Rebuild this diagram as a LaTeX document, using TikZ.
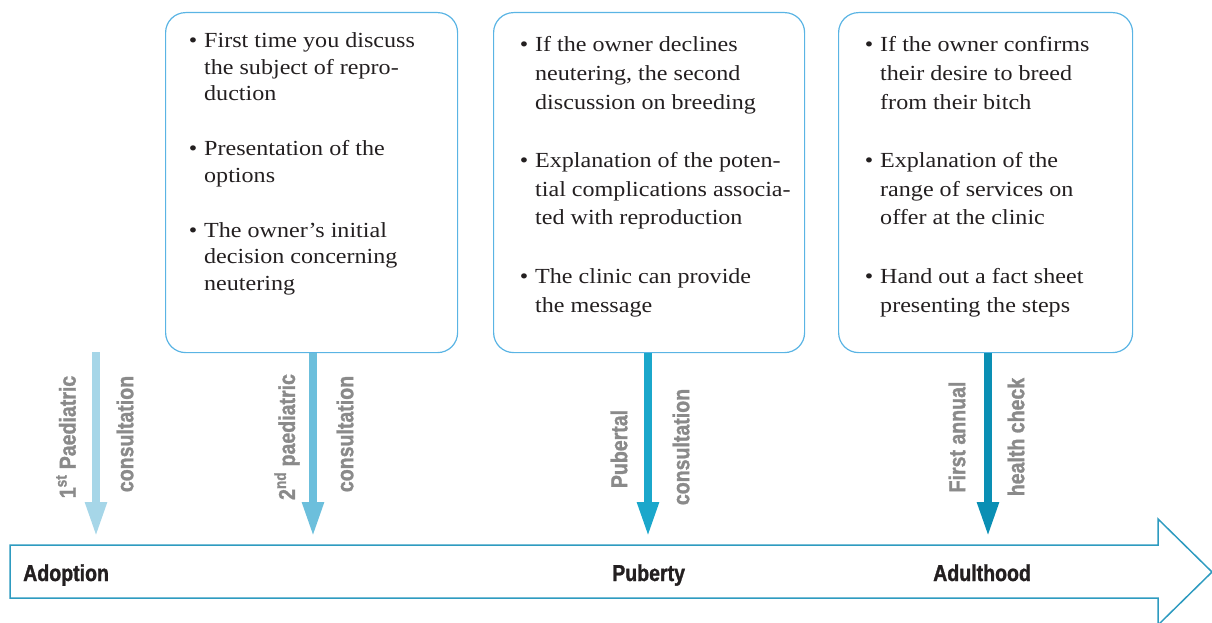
\documentclass[tikz,border=0pt]{standalone}
\usepackage{fontspec}
\setmainfont{Liberation Serif}[FakeStretch=1.12]
\newfontfamily\condfont{Liberation Sans}[FakeStretch=0.85, BoldFeatures={FakeBold=1.3}]
\usetikzlibrary{arrows.meta}
\definecolor{boxline}{HTML}{5AB4E4}
\definecolor{txt}{HTML}{231F20}
\definecolor{lbl}{HTML}{8A8A8A}
\definecolor{cA}{HTML}{A6D6E8}
\definecolor{cB}{HTML}{6CBFDC}
\definecolor{cC}{HTML}{1BA7CB}
\definecolor{cD}{HTML}{0A8FB4}
\definecolor{bigline}{HTML}{2E9BC0}
\tikzset{
  infobox/.style={draw=boxline, line width=1.2pt, rounded corners=20pt, anchor=north west, inner sep=0pt},
  bullettext/.style={anchor=base west, align=left, inner sep=0pt, text=txt},
  visit/.style={line width=8pt, -{Triangle[width=20pt,length=35pt]}},
  vlabel/.style={rotate=90, inner sep=0pt, text=lbl, font=\condfont\bfseries\fontsize{23}{25}\selectfont},
  stage/.style={anchor=base west, inner sep=0pt, text=txt, font=\condfont\bfseries\fontsize{23}{26}\selectfont},
  bigarrow/.style={draw=bigline, line width=1.5pt, line join=miter}
}
\newcommand{\bul}{\llap{\textbullet\hspace{7pt}}}
\begin{document}
\begin{tikzpicture}[x=1pt,y=-1pt]
\useasboundingbox (0,0) rectangle (1212,623);
% timeline arrow
\draw[bigarrow] (10,545) -- (1158,545) -- (1158,519) -- (1212,572) -- (1158,625) -- (1158,598) -- (10,598) -- cycle;
\node[stage] (adopt) at (23,581) {Adoption};
\node[stage] (pub) at (612,581) {Puberty};
\node[stage] (adult) at (933,581) {Adulthood};
% boxes
\node[infobox, minimum width=292pt, minimum height=340pt] (b1) at (165,12) {};
\node[infobox, minimum width=311pt, minimum height=340pt] (b2) at (493,12) {};
\node[infobox, minimum width=294pt, minimum height=340pt] (b3) at (838,12) {};
\node[bullettext, font=\fontsize{21.5}{26.3}\selectfont] (t1) at (204,290)
 {\bul First time you discuss\\the subject of repro-\\duction\\[29pt]
  \bul Presentation of the\\options\\[29pt]
  \bul The owner’s initial\\decision concerning\\neutering};
\node[bullettext, font=\fontsize{21.5}{28.6}\selectfont] (t2) at (535,312)
 {\bul If the owner declines\\neutering, the second\\discussion on breeding\\[30pt]
  \bul Explanation of the poten-\\tial complications associa-\\ted with reproduction\\[30pt]
  \bul The clinic can provide\\the message};
\node[bullettext, font=\fontsize{21.5}{28.6}\selectfont] (t3) at (880,312)
 {\bul If the owner confirms\\their desire to breed\\from their bitch\\[30pt]
  \bul Explanation of the\\range of services on\\offer at the clinic\\[30pt]
  \bul Hand out a fact sheet\\presenting the steps};
% visit arrows
\coordinate (s1) at (96,352);
\coordinate (e1) at (96,537);
\coordinate (e2) at (313,537);
\coordinate (e3) at (648,537);
\coordinate (e4) at (988,537);
\draw[visit, cA] (s1) -- (e1);
\draw[visit, cB] (b1.south -| e2) -- (e2);
\draw[visit, cC] (b2.south -| e3) -- (e3);
\draw[visit, cD] (b3.south -| e4) -- (e4);
% visit labels
\node[vlabel] (l1a) at (66,437) {1\textsuperscript{st} Paediatric};
\node[vlabel] (l1b) at (125,434) {consultation};
\node[vlabel] (l2a) at (287,437) {2\textsuperscript{nd} paediatric};
\node[vlabel] (l2b) at (345,434) {consultation};
\node[vlabel] (l3a) at (619,449) {Pubertal};
\node[vlabel] (l3b) at (681,447) {consultation};
\node[vlabel] (l4a) at (957,437) {First annual};
\node[vlabel] (l4b) at (1016,437) {health check};
\end{tikzpicture}
\end{document}
